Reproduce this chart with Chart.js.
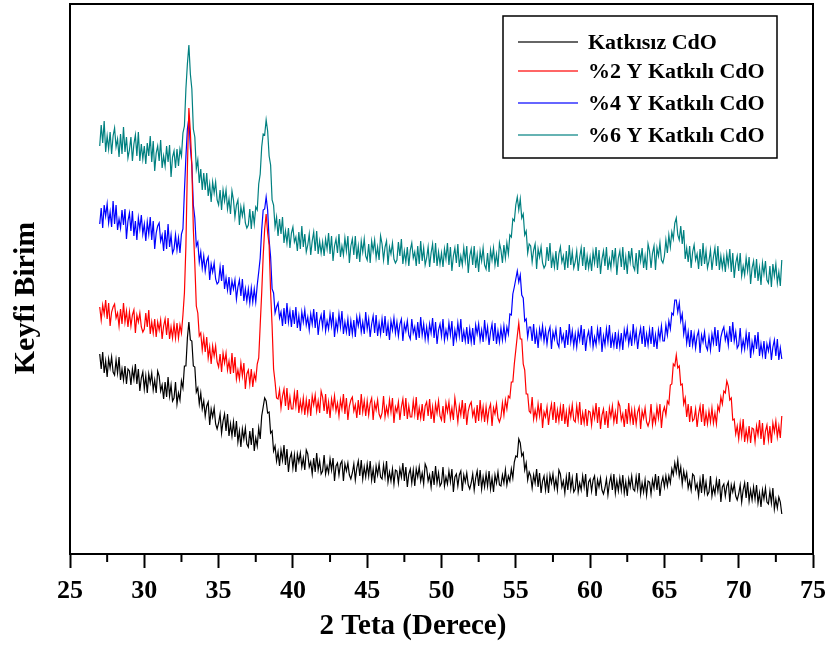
<!DOCTYPE html>
<html>
<head>
<meta charset="utf-8">
<script src="https://cdn.jsdelivr.net/npm/chart.js@4"></script>
<style>
  html, body { margin: 0; padding: 0; background: #fff; }
  #wrap { width: 827px; height: 646px; }
</style>
</head>
<body>
<div id="wrap"><canvas id="xrdChart" width="827" height="646"></canvas></div>
<script>
// 2 teta ekseni: 27.0 - 72.9 arasi, 0.1 derece adim (her satir 1 derece)
const startAngle = 27;
const stepAngle = 0.1;

const seriesLabels = ['Katkısız CdO', '%2 Y Katkılı CdO', '%4 Y Katkılı CdO', '%6 Y Katkılı CdO'];
const seriesColors = ['#000000', '#ff0000', '#0000ff', '#008080'];
const xTicks = [25, 30, 35, 40, 45, 50, 55, 60, 65, 70, 75];

// keyfi birim (kaydirilmis) siddet degerleri
const katkisiz = [
  200,185,202,181,193,177,195,186,197,182,
  179,194,181,197,174,185,174,188,170,185,
  183,169,185,175,190,170,185,163,176,182,
  165,178,161,180,171,181,164,174,161,183,
  178,163,169,155,172,157,177,158,169,153,
  156,172,150,161,154,173,166,188,188,216,
  232,214,213,188,187,162,166,150,161,145,
  153,138,148,152,129,145,137,146,130,125,
  131,140,121,133,140,123,140,118,130,118,
  132,117,133,112,123,107,125,115,126,110,
  107,123,109,126,103,116,108,126,115,138,
  147,156,153,141,142,121,123,103,108,93,
  102,88,104,94,109,89,105,82,96,101,
  86,99,82,100,92,101,87,96,84,104,
  100,87,92,80,96,82,101,84,93,80,
  83,99,80,88,81,95,84,96,73,88,
  91,79,90,93,73,90,83,91,79,75,
  81,90,74,86,93,78,94,75,87,77,
  90,78,93,74,85,71,88,79,90,77,
  75,89,77,93,72,82,73,85,70,84,
  83,71,85,77,91,73,87,67,80,85,
  71,84,68,85,77,87,73,81,70,90,
  86,73,79,67,83,69,88,71,81,68,
  71,87,68,77,70,83,72,85,62,77,
  80,68,79,83,63,79,72,81,69,65,
  71,80,64,76,83,68,84,65,77,67,
  80,68,83,65,76,62,79,71,82,69,
  68,79,71,84,69,78,73,85,76,92,
  98,97,115,111,98,101,84,91,74,82,
  78,66,79,71,85,67,81,61,73,78,
  64,77,61,79,71,80,66,75,64,84,
  80,67,73,61,77,64,82,65,76,62,
  65,81,62,71,64,78,67,80,57,72,
  75,63,74,78,58,74,67,76,64,60,
  66,75,59,71,78,64,80,61,73,63,
  76,64,79,61,72,58,75,67,78,65,
  63,77,65,81,60,71,62,74,59,73,
  72,60,74,66,80,64,78,58,71,77,
  67,78,68,78,71,85,79,91,82,94,
  78,87,70,83,74,81,66,73,64,80,
  78,65,70,58,74,61,80,62,72,59,
  62,78,58,67,60,74,63,75,52,67,
  70,58,68,72,52,69,62,70,58,54,
  60,69,52,64,71,56,72,53,64,54,
  67,55,69,51,61,47,64,55,66,52,
  50,63,51,66,45,55,46,57,52,40
];

const y2 = [
  247,234,249,240,254,235,251,228,242,247,
  250,236,241,228,245,230,251,232,243,227,
  242,228,239,244,221,239,232,241,227,222,
  225,241,227,244,220,232,221,235,217,232,
  224,234,215,228,235,219,236,215,227,216,
  230,216,231,216,229,221,239,261,308,386,
  446,422,388,325,290,248,241,218,221,204,
  217,202,217,196,207,190,208,198,208,192,
  187,200,182,201,191,201,184,193,180,201,
  181,197,175,184,175,191,178,191,165,180,
  184,170,185,167,180,174,190,196,229,261,
  298,325,340,321,309,262,228,185,172,156,
  155,164,146,158,165,148,166,144,157,145,
  145,161,148,164,141,153,143,156,139,154,
  141,155,138,158,149,159,143,153,141,163,
  157,143,160,140,152,136,155,146,158,143,
  151,138,154,145,160,140,156,134,148,154,
  157,143,149,136,154,139,160,142,153,138,
  153,139,151,156,134,151,144,154,140,136,
  141,158,137,147,139,154,142,156,131,147,
  142,152,134,147,155,138,156,135,148,137,
  137,153,140,157,134,146,136,150,133,148,
  152,138,155,135,147,131,150,141,153,138,
  134,148,131,151,142,152,136,146,134,156,
  145,132,148,139,154,135,151,129,143,149,
  152,138,144,131,149,133,154,136,147,132,
  147,133,145,150,128,146,140,150,136,132,
  137,151,139,154,145,158,156,172,172,190,
  204,218,231,215,215,190,184,160,160,143,
  141,157,135,144,135,150,138,151,126,142,
  137,147,129,142,150,134,152,131,144,133,
  147,133,150,130,142,127,146,137,149,134,
  132,148,135,152,129,141,131,145,128,143,
  142,129,145,136,151,131,147,125,139,145,
  129,143,126,146,137,148,132,142,130,152,
  148,134,140,127,145,130,151,133,144,129,
  144,130,142,147,125,143,136,146,132,128,
  133,150,129,139,131,147,136,150,126,142,
  147,139,153,150,169,170,190,188,199,186,
  188,169,170,150,156,137,150,132,148,133,
  135,145,127,140,148,132,150,128,141,130,
  143,132,146,131,141,130,148,143,157,150,
  163,161,173,168,154,156,134,135,120,128,
  115,131,118,135,112,124,114,128,111,126,
  125,112,128,119,134,115,131,109,123,129,
  114,128,111,131,122,133,117,128,116,138
];

const y4 = [
  330,346,326,349,338,350,331,342,327,353,
  330,349,324,335,326,344,329,345,315,333,
  341,323,343,318,333,314,336,325,339,320,
  330,313,332,320,337,314,333,305,321,328,
  331,313,319,303,324,305,330,307,319,301,
  305,319,304,316,301,320,325,363,397,425,
  436,406,389,349,336,308,312,292,302,286,
  298,283,293,297,274,290,282,291,275,270,
  272,287,273,289,265,276,264,277,259,273,
  265,274,255,267,274,258,275,253,265,253,
  265,251,266,252,265,252,269,282,296,324,
  344,345,357,344,314,297,265,261,241,247,
  251,236,242,228,246,230,251,232,243,227,
  244,230,247,226,238,223,242,232,244,229,
  237,224,240,230,245,226,242,219,233,239,
  227,244,223,233,225,240,228,242,217,233,
  224,240,227,243,220,232,222,235,218,233,
  220,234,217,237,228,238,222,232,220,242,
  225,235,217,230,238,221,239,218,231,220,
  235,221,238,218,230,214,233,224,236,221,
  232,218,230,235,213,230,223,233,219,215,
  235,221,227,214,232,216,237,219,230,215,
  227,214,230,221,236,216,232,210,224,230,
  218,235,214,224,216,231,219,233,208,224,
  215,231,218,235,212,223,213,227,210,225,
  212,226,209,229,220,230,214,224,212,234,
  217,227,209,222,230,213,231,210,223,212,
  226,214,228,215,227,220,240,239,260,267,
  275,283,272,279,259,256,233,235,217,227,
  227,213,230,210,222,206,225,216,228,213,
  224,210,222,227,205,222,215,225,211,207,
  227,213,219,206,224,209,230,212,223,208,
  220,207,223,214,229,209,225,203,217,223,
  211,228,207,217,209,225,213,227,202,218,
  209,225,212,229,206,218,208,222,205,220,
  207,221,204,224,215,226,210,220,208,230,
  213,223,205,218,226,210,228,207,220,209,
  224,210,227,207,219,205,224,215,228,213,
  213,229,219,233,225,241,239,254,254,242,
  251,233,240,220,230,211,222,207,224,209,
  220,206,218,223,201,219,212,222,208,204,
  217,204,220,211,227,208,224,202,217,223,
  227,214,221,209,228,212,232,213,222,206,
  209,226,204,214,205,221,208,222,196,212,
  203,219,205,222,198,210,199,213,195,210,
  203,213,194,207,214,198,215,194,206,195
];

const y6 = [
  408,429,411,433,402,418,405,422,400,418,
  426,407,415,397,420,400,427,402,417,396,
  404,417,393,410,419,398,422,393,410,395,
  408,390,411,398,418,392,413,383,401,408,
  393,414,386,398,388,408,392,409,377,397,
  403,386,405,388,405,398,421,428,465,490,
  509,480,465,425,417,385,394,371,385,364,
  381,364,381,358,370,352,372,361,372,354,
  349,364,344,364,353,364,345,355,340,363,
  354,337,349,354,329,347,338,348,331,326,
  329,345,325,343,330,347,344,370,380,407,
  420,419,434,423,398,389,354,349,327,337,
  318,335,320,337,311,323,311,326,306,321,
  327,312,317,303,322,305,328,307,320,302,
  309,320,299,313,322,303,323,300,313,301,
  312,298,315,305,321,300,318,293,308,315,
  301,320,297,308,299,316,303,318,291,308,
  315,299,318,295,308,292,313,302,315,298,
  294,310,291,313,303,314,296,307,294,318,
  310,294,307,313,289,307,300,311,295,291,
  294,312,298,315,290,303,292,307,288,304,
  311,296,302,288,308,290,313,293,306,289,
  296,307,287,301,310,291,311,288,302,290,
  301,287,305,295,311,289,307,283,298,306,
  291,310,287,298,289,306,293,308,281,298,
  305,289,308,286,299,282,303,293,306,289,
  285,301,282,304,294,306,289,300,287,311,
  304,291,309,296,311,300,319,317,335,333,
  349,357,344,355,336,340,319,323,301,310,
  308,292,304,310,285,305,297,307,291,286,
  289,307,293,311,286,298,287,303,284,300,
  307,292,298,284,303,286,309,289,302,286,
  292,303,283,297,306,288,307,284,298,286,
  297,283,302,291,307,286,304,280,295,303,
  288,307,284,295,286,304,291,306,279,296,
  303,287,307,284,297,280,303,292,306,288,
  284,301,280,304,293,306,286,298,284,310,
  303,286,301,308,284,306,298,311,294,291,
  298,314,301,319,307,322,315,331,336,319,
  314,328,310,324,295,306,292,308,286,302,
  309,294,300,285,305,288,311,290,303,286,
  293,304,284,297,306,288,308,284,298,286,
  297,282,300,289,305,282,301,276,291,298,
  283,301,278,288,279,296,283,297,270,286,
  293,276,295,273,286,269,291,280,293,274,
  271,288,267,290,278,290,271,282,268,294
];

const FONT = "'Liberation Serif', 'Times New Roman', serif";

function toPoints(values) {
  return values.map((v, i) => ({ x: +(startAngle + i * stepAngle).toFixed(1), y: v }));
}

// cerceve, ara tickler, eksen basliklari ve lejant
const decorPlugin = {
  id: 'decor',
  afterDraw(chart) {
    const ctx = chart.ctx;
    const area = chart.chartArea;
    const xScale = chart.scales.x;
    ctx.save();

    ctx.strokeStyle = '#000';
    ctx.lineWidth = 2;
    ctx.strokeRect(area.left, area.top, area.right - area.left, area.bottom - area.top);

    // ara (minor) tickler
    for (let i = 0; i < xTicks.length - 1; i++) {
      const px = xScale.getPixelForValue((xTicks[i] + xTicks[i + 1]) / 2);
      ctx.beginPath();
      ctx.moveTo(px, area.bottom);
      ctx.lineTo(px, area.bottom + 8);
      ctx.stroke();
    }

    ctx.fillStyle = '#000';
    ctx.font = 'bold 29px ' + FONT;
    ctx.textAlign = 'center';
    ctx.textBaseline = 'middle';
    ctx.fillText('2 Teta (Derece)', 413, 627);

    ctx.save();
    ctx.translate(26, 298);
    ctx.rotate(-Math.PI / 2);
    ctx.font = 'bold 30px ' + FONT;
    ctx.fillText('Keyfi Birim', 0, 0);
    ctx.restore();

    // lejant kutusu
    ctx.lineWidth = 1.5;
    ctx.strokeRect(503, 16, 274, 142);
    const rows = [42, 71, 103, 135];
    ctx.font = 'bold 22px ' + FONT;
    ctx.textAlign = 'left';
    chart.data.datasets.forEach((ds, i) => {
      ctx.strokeStyle = ds.borderColor;
      ctx.globalAlpha = 0.6;
      ctx.lineWidth = 2;
      ctx.beginPath();
      ctx.moveTo(518, rows[i]);
      ctx.lineTo(578, rows[i]);
      ctx.stroke();
      ctx.globalAlpha = 1;
      ctx.fillText(ds.label, 588, rows[i] + 1);
    });

    ctx.restore();
  }
};

const ctx = document.getElementById('xrdChart').getContext('2d');
const allValues = [katkisiz, y2, y4, y6];

new Chart(ctx, {
  type: 'line',
  data: {
    datasets: allValues.map((vals, i) => ({
      label: seriesLabels[i],
      data: toPoints(vals),
      borderColor: seriesColors[i],
      borderWidth: 1.2,
      pointRadius: 0,
      tension: 0,
      fill: false
    }))
  },
  options: {
    responsive: false,
    animation: false,
    layout: { padding: { top: 4, right: 14, left: 0, bottom: 0 } },
    plugins: {
      legend: { display: false },
      tooltip: { enabled: false }
    },
    scales: {
      x: {
        type: 'linear',
        min: 25,
        max: 75,
        afterFit: (s) => { s.height = 92; s.paddingRight = 0; s.paddingLeft = 0; },
        afterBuildTicks: (s) => { s.ticks = xTicks.map(v => ({ value: v })); },
        ticks: {
          color: '#000',
          padding: 8,
          font: { family: FONT, size: 26, weight: 'bold' }
        },
        grid: {
          drawOnChartArea: false,
          tickLength: 14,
          tickWidth: 2,
          tickColor: '#000'
        },
        border: { color: '#000', width: 2 }
      },
      y: {
        min: 0,
        max: 550,
        afterFit: (s) => { s.width = 70; },
        ticks: { display: false },
        grid: { display: false },
        border: { color: '#000', width: 2 }
      }
    }
  },
  plugins: [decorPlugin]
});
</script>
</body>
</html>
